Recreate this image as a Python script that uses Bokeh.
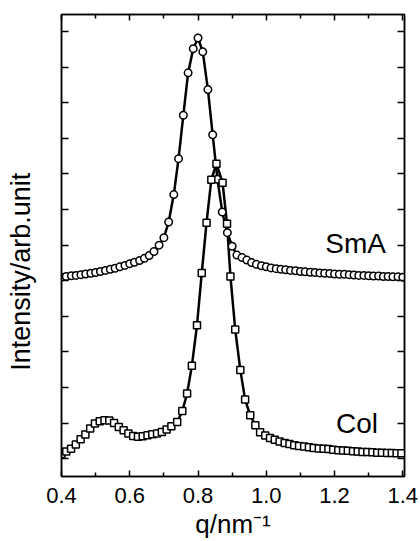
from bokeh.plotting import figure
from bokeh.models import Range1d, LinearAxis, FixedTicker, Label
from bokeh.embed import file_html
from bokeh.resources import INLINE

# SmA (circles)
sma_q = [0.400, 0.414, 0.429, 0.443, 0.457, 0.471, 0.486, 0.500, 0.514, 0.529,
         0.543, 0.557, 0.571, 0.586, 0.600, 0.614, 0.629, 0.643, 0.657, 0.671,
         0.686, 0.700, 0.714, 0.729, 0.743, 0.757, 0.771, 0.786, 0.800, 0.814,
         0.829, 0.843, 0.857, 0.871, 0.886, 0.900, 0.914, 0.929, 0.943, 0.957,
         0.971, 0.986, 1.000, 1.014, 1.029, 1.043, 1.057, 1.071, 1.086, 1.100,
         1.114, 1.129, 1.143, 1.157, 1.171, 1.186, 1.200, 1.214, 1.229, 1.243,
         1.257, 1.271, 1.286, 1.300, 1.314, 1.329, 1.343, 1.357, 1.371, 1.386,
         1.400]
sma_i = [5.10, 5.12, 5.14, 5.15, 5.17, 5.19, 5.21, 5.23, 5.26, 5.29,
         5.32, 5.35, 5.39, 5.43, 5.48, 5.52, 5.57, 5.63, 5.71, 5.82,
         6.00, 6.21, 6.65, 7.42, 8.43, 9.65, 10.84, 11.52, 11.82, 11.43,
         10.37, 9.10, 7.85, 6.93, 6.35, 5.97, 5.72, 5.65, 5.58, 5.51,
         5.46, 5.42, 5.39, 5.36, 5.34, 5.32, 5.31, 5.29, 5.28, 5.26,
         5.25, 5.24, 5.23, 5.22, 5.21, 5.20, 5.19, 5.18, 5.18, 5.17,
         5.16, 5.15, 5.15, 5.14, 5.13, 5.13, 5.12, 5.12, 5.11, 5.11,
         5.10]

# Col (squares)
col_q = [0.400, 0.414, 0.428, 0.442, 0.456, 0.470, 0.484, 0.498, 0.512, 0.526,
         0.540, 0.554, 0.568, 0.582, 0.596, 0.610, 0.624, 0.638, 0.652, 0.666,
         0.680, 0.694, 0.708, 0.722, 0.739, 0.754, 0.768, 0.782, 0.797, 0.811,
         0.825, 0.839, 0.854, 0.872, 0.885, 0.895, 0.909, 0.924, 0.938, 0.953,
         0.968, 0.982, 0.997, 1.011, 1.025, 1.039, 1.054, 1.068, 1.082, 1.096,
         1.111, 1.125, 1.139, 1.154, 1.168, 1.182, 1.196, 1.211, 1.225, 1.239,
         1.254, 1.268, 1.282, 1.296, 1.311, 1.325, 1.339, 1.354, 1.368, 1.382,
         1.396]
col_i = [0.13, 0.20, 0.28, 0.40, 0.55, 0.68, 0.85, 0.99, 1.05, 1.08,
         1.07, 1.00, 0.89, 0.80, 0.71, 0.64, 0.62, 0.63, 0.66, 0.69,
         0.71, 0.75, 0.82, 0.91, 1.03, 1.34, 1.83, 2.61, 3.75, 5.22,
         6.63, 7.84, 8.29, 7.75, 6.60, 5.12, 3.63, 2.49, 1.66, 1.22,
         0.94, 0.74, 0.65, 0.58, 0.53, 0.48, 0.44, 0.41, 0.38, 0.36,
         0.34, 0.32, 0.30, 0.29, 0.28, 0.27, 0.25, 0.24, 0.23, 0.22,
         0.21, 0.20, 0.19, 0.19, 0.18, 0.17, 0.17, 0.16, 0.16, 0.15,
         0.15]

x_ticks = [0.4, 0.6, 0.8, 1.0, 1.2, 1.4]
x_tick_labels = ["0.4", "0.6", "0.8", "1.0", "1.2", "1.4"]
x_minor = [0.5, 0.7, 0.9, 1.1, 1.3]
y_ticks = list(range(0, 13))

FONT = "Liberation Sans"

p = figure(width=420, height=541, output_backend="svg", toolbar_location=None,
           x_range=Range1d(0.4, 1.405), y_range=Range1d(-0.5, 12.48),
           min_border_left=61, min_border_right=16, min_border_top=14,
           min_border_bottom=65)
p.grid.visible = False
p.outline_line_color = "black"
p.outline_line_width = 1.5
p.background_fill_color = "white"
p.border_fill_color = "white"

for q, i in [(sma_q, sma_i), (col_q, col_i)]:
    p.line(q, i, line_color="black", line_width=2.5)
p.scatter(sma_q, sma_i, marker="circle", size=7.5, fill_color="white",
          line_color="black", line_width=1.5)
p.scatter(col_q, col_i, marker="square", size=7, fill_color="white",
          line_color="black", line_width=1.5)

def style_axis(ax, ticks, minor, labels=None):
    ax.ticker = FixedTicker(ticks=ticks, minor_ticks=minor)
    ax.axis_line_color = "black"
    ax.axis_line_width = 1.5
    ax.major_tick_in = 6
    ax.major_tick_out = 0
    ax.minor_tick_in = 4
    ax.minor_tick_out = 0
    ax.major_tick_line_width = 1.5
    ax.minor_tick_line_width = 1.5
    ax.major_tick_line_color = "black"
    ax.minor_tick_line_color = "black"
    if labels:
        ax.major_label_overrides = {t: s for t, s in zip(ticks, labels)}
        ax.major_label_text_font = FONT
        ax.major_label_text_font_size = "22px"
        ax.major_label_text_color = "black"
        ax.major_label_standoff = 11
    else:
        ax.major_label_overrides = {t: "" for t in ticks}
        ax.major_label_text_font_size = "1px"
        ax.major_label_standoff = 0

xb = p.xaxis[0]
style_axis(xb, x_ticks, x_minor, x_tick_labels)
xb.axis_label = "q/nm⁻¹"
xb.axis_label_text_font = FONT
xb.axis_label_text_font_size = "26px"
xb.axis_label_text_font_style = "normal"
xb.axis_label_text_color = "black"
xb.axis_label_standoff = 3

yl = p.yaxis[0]
style_axis(yl, y_ticks, [])
yl.major_tick_in = 7
yl.axis_label = "Intensity/arb.unit" + "\u00a0" * 7
yl.axis_label_text_font = FONT
yl.axis_label_text_font_size = "27px"
yl.axis_label_text_font_style = "normal"
yl.axis_label_text_color = "black"
yl.axis_label_standoff = 26

xt = LinearAxis()
style_axis(xt, x_ticks, x_minor)
p.add_layout(xt, "above")
yr = LinearAxis()
style_axis(yr, y_ticks, [])
yr.major_tick_in = 7
p.add_layout(yr, "right")

p.add_layout(Label(x=1.262, y=6.04, text="SmA", text_align="center",
                   text_baseline="alphabetic", text_font=FONT,
                   text_font_size="28px", text_color="black"))
p.add_layout(Label(x=1.266, y=1.0, text="Col", text_align="center",
                   text_baseline="alphabetic", text_font=FONT,
                   text_font_size="28px", text_color="black"))

open("out.html", "w").write(file_html(p, INLINE))
